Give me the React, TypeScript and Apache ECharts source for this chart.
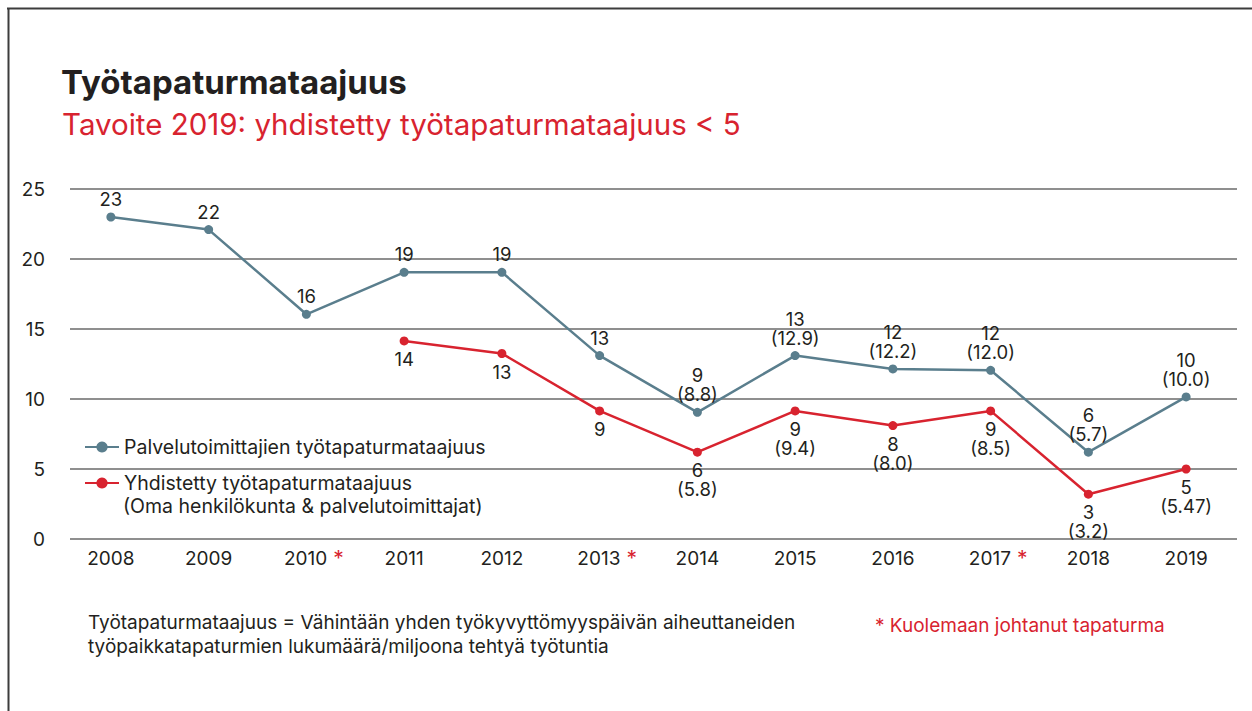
import React, { useEffect, useRef } from 'react';
import * as echarts from 'echarts';

const years = ['2008', '2009', '2010', '2011', '2012', '2013', '2014', '2015', '2016', '2017', '2018', '2019'];
const fatalYears = ['2010', '2013', '2017'];

const contractorName = 'Palvelutoimittajien työtapaturmataajuus';
const combinedName = 'Yhdistetty työtapaturmataajuus';
const combinedNameLine2 = '(Oma henkilökunta & palvelutoimittajat)';

const contractorValues = [23, 22.1, 16.05, 19.05, 19.05, 13.1, 9.05, 13.1, 12.15, 12.05, 6.2, 10.15];
const combinedValues = [null, null, null, 14.15, 13.25, 9.15, 6.2, 9.15, 8.1, 9.15, 3.2, 5.0];

const contractorMain = ['23', '22', '16', '19', '19', '13', '9', '13', '12', '12', '6', '10'];
const contractorDetail = ['', '', '', '', '', '', '(8.8)', '(12.9)', '(12.2)', '(12.0)', '(5.7)', '(10.0)'];
const combinedMain = ['', '', '', '14', '13', '9', '6', '9', '8', '9', '3', '5'];
const combinedDetail = ['', '', '', '', '', '', '(5.8)', '(9.4)', '(8.0)', '(8.5)', '(3.2)', '(5.47)'];

const yMin = 0;
const yMax = 25;
const yStep = 5;

const titleText = 'Työtapaturmataajuus';
const subtitleText = 'Tavoite 2019: yhdistetty työtapaturmataajuus < 5';
const noteLine1 = 'Työtapaturmataajuus = Vähintään yhden työkyvyttömyyspäivän aiheuttaneiden';
const noteLine2 = 'työpaikkatapaturmien lukumäärä/miljoona tehtyä työtuntia';
const fatalNote = '* Kuolemaan johtanut tapaturma';

const FONT = 'Inter, "Noto Sans", sans-serif';
const TEXT = '#231f20';
const RED = '#d8232f';
const BLUE = '#5a7e8d';
const GRID = '#6a6a6a';
const FS = 19;

function buildOption(): echarts.EChartsOption {
  const label = (main: string[], detail: string[]) => (p: any) => {
    const i = p.dataIndex;
    const m = main[i];
    const d = detail[i];
    if (!m) return '';
    return d ? `${m}\n${d}` : m;
  };
  return {
    animation: false,
    backgroundColor: '#ffffff',
    textStyle: { fontFamily: FONT },
    grid: [
      { left: 70, right: 15, top: 189, bottom: 172 },
      { left: 62, right: 17, top: 189, bottom: 172 },
    ],
    xAxis: [
      { gridIndex: 0, type: 'category', data: years, show: false },
      {
        gridIndex: 1,
        type: 'category',
        data: years,
        boundaryGap: true,
        axisLine: { show: false },
        axisTick: { show: false },
        splitLine: { show: false },
        axisLabel: {
          margin: 9,
          interval: 0,
          fontFamily: FONT,
          fontSize: FS,
          lineHeight: 20,
          color: TEXT,
          formatter: (v: string) => (fatalYears.includes(v) ? `{pad|${v}}{star|*}` : `{y|${v}}`),
          rich: {
            y: { fontFamily: FONT, fontSize: FS, lineHeight: 20, color: TEXT },
            pad: { fontFamily: FONT, fontSize: FS, lineHeight: 20, color: TEXT, padding: [0, 0, 0, 15] },
            star: { fontFamily: FONT, fontSize: 21, lineHeight: 20, color: RED, padding: [0, 0, 0, 6] },
          },
        },
      },
    ],
    yAxis: [
      {
        gridIndex: 0,
        type: 'value',
        min: yMin,
        max: yMax,
        interval: yStep,
        axisLine: { show: false },
        axisTick: { show: false },
        axisLabel: { margin: 25, fontFamily: FONT, fontSize: FS, color: TEXT },
        splitLine: { show: true, lineStyle: { color: GRID, width: 1.5 } },
      },
      { gridIndex: 1, type: 'value', min: yMin, max: yMax, interval: yStep, show: false, splitLine: { show: false } },
    ],
    legend: {
      orient: 'vertical',
      left: 84,
      top: 437,
      padding: 0,
      itemWidth: 34,
      itemHeight: 14,
      itemGap: 16,
      textStyle: { fontFamily: FONT, fontSize: 19.5, lineHeight: 20, color: TEXT },
      data: [contractorName, combinedName],
    },
    series: [
      {
        name: contractorName,
        type: 'line',
        xAxisIndex: 1,
        yAxisIndex: 1,
        data: contractorValues,
        symbol: 'circle',
        symbolSize: 9,
        lineStyle: { color: BLUE, width: 2.5 },
        itemStyle: { color: BLUE },
        label: {
          show: true,
          position: 'top',
          distance: 4,
          fontFamily: FONT,
          fontSize: 18.5,
          lineHeight: 19,
          color: TEXT,
          formatter: label(contractorMain, contractorDetail),
        },
      },
      {
        name: combinedName,
        type: 'line',
        xAxisIndex: 1,
        yAxisIndex: 1,
        data: combinedValues,
        symbol: 'circle',
        symbolSize: 9,
        lineStyle: { color: RED, width: 2.5 },
        itemStyle: { color: RED },
        label: {
          show: true,
          position: 'bottom',
          distance: 4,
          fontFamily: FONT,
          fontSize: 18.5,
          lineHeight: 19,
          color: TEXT,
          formatter: label(combinedMain, combinedDetail),
        },
      },
    ],
    graphic: [
      { type: 'line', shape: { x1: 7, y1: 8.5, x2: 1252, y2: 8.5 }, style: { stroke: '#3c3c3c', lineWidth: 2 } },
      { type: 'line', shape: { x1: 8.5, y1: 8, x2: 8.5, y2: 711 }, style: { stroke: '#3c3c3c', lineWidth: 2 } },
      {
        type: 'text',
        x: 61,
        y: 82,
        style: { text: titleText, fontFamily: FONT, fontSize: 33, fontWeight: 'bold', fill: TEXT, verticalAlign: 'middle' },
      },
      {
        type: 'text',
        x: 62,
        y: 124,
        style: { text: subtitleText, fontFamily: FONT, fontSize: 29.5, fill: RED, verticalAlign: 'middle' },
      },
      {
        type: 'text',
        x: 123,
        y: 506,
        style: { text: combinedNameLine2, fontFamily: FONT, fontSize: 19.5, fill: TEXT, verticalAlign: 'middle' },
      },
      {
        type: 'text',
        x: 88,
        y: 622,
        style: { text: noteLine1, fontFamily: FONT, fontSize: FS, fill: TEXT, verticalAlign: 'middle' },
      },
      {
        type: 'text',
        x: 88,
        y: 646,
        style: { text: noteLine2, fontFamily: FONT, fontSize: FS, fill: TEXT, verticalAlign: 'middle' },
      },
      {
        type: 'text',
        x: 875,
        y: 625,
        style: { text: fatalNote, fontFamily: FONT, fontSize: FS, fill: RED, verticalAlign: 'middle' },
      },
    ],
  } as echarts.EChartsOption;
}

export default function App() {
  const ref = useRef<HTMLDivElement>(null);
  useEffect(() => {
    if (!ref.current) return;
    const chart = echarts.init(ref.current, null, { renderer: 'svg' });
    chart.setOption(buildOption());
    return () => chart.dispose();
  }, []);
  return (
    <div
      ref={ref}
      style={{ position: 'fixed', left: 0, top: 0, width: 1252, height: 711, background: '#ffffff' }}
    />
  );
}
